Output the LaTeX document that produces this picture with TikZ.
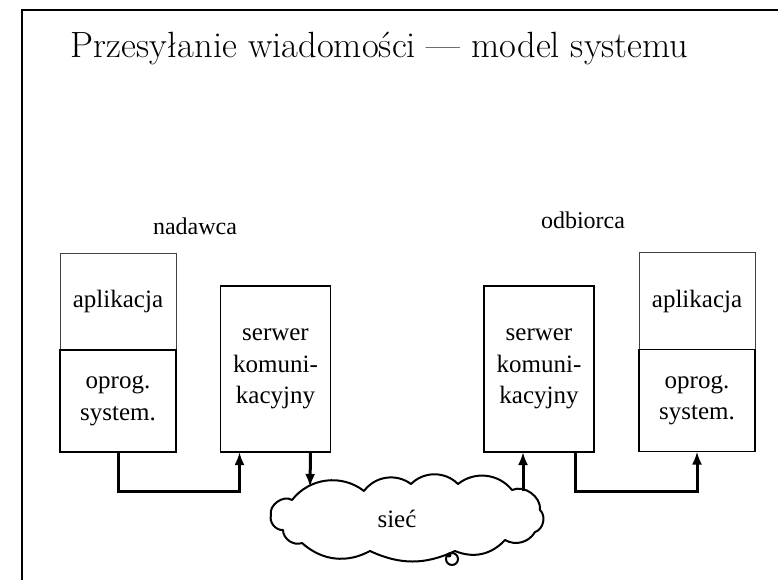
\documentclass[tikz,border=0pt]{standalone}
\usepackage{fontspec}
\newfontfamily\timesfont{Liberation Serif}
\usetikzlibrary{positioning,arrows.meta}

\tikzset{
  boxtext/.style={outer sep=0pt,align=center,font=\timesfont\fontsize{25}{31.5}\selectfont},
  appbox/.style={boxtext,draw=black!75,line width=1pt,minimum width=116pt,minimum height=97pt},
  osbox/.style={boxtext,draw,line width=1.6pt,minimum width=116pt,minimum height=102pt},
  srvbox/.style={boxtext,draw,line width=1.6pt,minimum width=110pt,minimum height=166pt},
  conn/.style={line width=3pt,-{Latex[length=13pt,width=10pt]}},
  role/.style={font=\timesfont\fontsize{24}{28}\selectfont}
}

\begin{document}
\begin{tikzpicture}[x=1pt,y=-1pt]
        \useasboundingbox (0,0) rectangle (778,580);

        % Frame and title
        \draw[line width=2pt] (22,580) -- (22,10) -- (778,10);
        \node[anchor=base west,font=\fontsize{36.5}{42}\selectfont] (title) at (67,58)
            {Przesyłanie wiadomości — model systemu};

        % Sender side
        \node[role] (nadawca) at (195,226) {nadawca};
        \node[appbox] (appL) at (118,301.5) {aplikacja};
        \node[osbox,below=0pt of appL] (osL) {oprog.\\system.};
        \node[srvbox] (srvL) at (275.5,369) {serwer\\komuni-\\kacyjny};

        % Receiver side
        \node[role] (odbiorca) at (583,220) {odbiorca};
        \node[srvbox] (srvR) at (539,369) {serwer\\komuni-\\kacyjny};
        \node[appbox] (appR) at (697,301) {aplikacja};
        \node[osbox,below=0pt of appR] (osR) {oprog.\\system.};

        % Network cloud
        \draw[line width=2pt,line join=round]
            (271,515) to[bend left=70] (292,500)
            to[bend left=45] (364,491)
            to[bend left=45] (411,484)
            to[bend left=45] (458,484)
            to[bend left=45] (512,490)
            to[bend left=60] (540,510)
            to[bend left=60] (535,532)
            to[bend left=45] (505,540)
            to[bend left=35] (455,551)
            to[bend left=25] (370,551)
            to[bend left=35] (302,543)
            to[bend left=55] (283,530)
            to[bend left=55] cycle;
        \node[font=\timesfont\fontsize{25}{30}\selectfont] (siec) at (397,519) {sieć};
        \draw[line width=2pt] (452,559) circle (6);
        \fill (449,555) circle (2.5);

        \coordinate (inL) at (310,487);
        \coordinate (outR) at (523,491);

        % Connectors
        \draw[conn] (osL.south) -- ++(0,39) -| ([xshift=19pt]srvL.south west);
        \draw[conn] ([xshift=-20pt]srvL.south east) -- (inL);
        \draw[conn] (outR) -- (outR |- srvR.south);
        \draw[conn] ([xshift=-19pt]srvR.south east) -- ++(0,39) -| (osR.south);

    \end{tikzpicture}
\end{document}
